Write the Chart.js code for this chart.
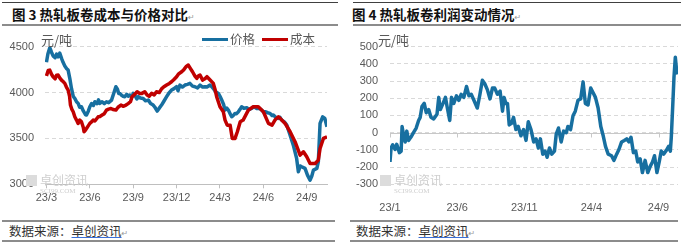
<!DOCTYPE html>
<html>
<head>
<meta charset="utf-8">
<script src="https://cdn.jsdelivr.net/npm/chart.js@4.4.1/dist/chart.umd.min.js"></script>
<style>
  body { margin: 0; width: 681px; height: 244px; background: #fff; position: relative; overflow: hidden; font-family: "Noto Sans CJK SC", sans-serif; }
  .line { position: absolute; }
  .title { position: absolute; top: 5px; font-size: 13.5px; font-weight: bold; color: #111; line-height: 18px; white-space: nowrap; }
  .src { position: absolute; top: 222px; font-size: 12.5px; color: #333; line-height: 18px; white-space: nowrap; }
  .src u { text-decoration-color: #3a6fd8; }
  .pm { font-family: "DejaVu Sans"; font-size: 8px; color: #999; font-weight: normal; }
  .unit { position: absolute; top: 32px; font-size: 13px; color: #595959; line-height: 16px; }
  .leg { position: absolute; top: 31px; font-size: 12.5px; color: #595959; line-height: 16px; }
  .sw { position: absolute; top: 38px; height: 3px; width: 26px; }
  .wm { position: absolute; color: #cfcfcf; white-space: nowrap; }
  .box { position: absolute; }
</style>
</head>
<body>
<!-- panel rules -->
<div class="line" style="left:2px;top:2px;width:336px;height:1px;background:#404040"></div>
<div class="line" style="left:353px;top:2px;width:328px;height:1px;background:#404040"></div>
<div class="line" style="left:2px;top:24px;width:336px;height:2px;background:#8c8c8c"></div>
<div class="line" style="left:353px;top:24px;width:328px;height:2px;background:#8c8c8c"></div>
<div class="line" style="left:2px;top:220px;width:333px;height:2px;background:#8c8c8c"></div>
<div class="line" style="left:350px;top:220px;width:328px;height:2px;background:#8c8c8c"></div>
<div class="line" style="left:2px;top:240px;width:333px;height:2px;background:#8c8c8c"></div>
<div class="line" style="left:350px;top:240px;width:328px;height:2px;background:#8c8c8c"></div>

<div class="title" style="left:12px">图 3 热轧板卷成本与价格对比<span class="pm">↵</span></div>
<div class="title" style="left:352px">图 4 热轧板卷利润变动情况<span class="pm">↵</span></div>

<div class="box" style="left:0;top:28px;width:340px;height:190px"><canvas id="c1" width="340" height="190"></canvas></div>
<div class="box" style="left:340px;top:28px;width:341px;height:190px"><canvas id="c2" width="341" height="190"></canvas></div>

<div class="unit" style="left:41px">元/吨</div>
<div class="unit" style="left:378px">元/吨</div>

<div class="sw" style="left:202px;background:#176fa0"></div>
<div class="leg" style="left:230px">价格</div>
<div class="sw" style="left:262px;background:#c00000"></div>
<div class="leg" style="left:290px">成本</div>

<!-- watermarks -->
<div class="wm" style="left:26px;top:175px;width:11px;height:11px;background:#dcdcdc"></div>
<div class="wm" style="left:40px;top:173px;font-size:12px;line-height:14px">卓创资讯</div>
<div class="wm" style="left:40px;top:187px;font-size:7px;line-height:8px;font-family:'Liberation Serif'">SCI99.COM</div>
<div class="wm" style="left:380px;top:175px;width:11px;height:11px;background:#dcdcdc"></div>
<div class="wm" style="left:394px;top:173px;font-size:12px;line-height:14px">卓创资讯</div>
<div class="wm" style="left:394px;top:187px;font-size:7px;line-height:8px;font-family:'Liberation Serif'">SCI99.COM</div>

<div class="src" style="left:9px">数据来源：<u>卓创资讯</u><span class="pm">↵</span></div>
<div class="src" style="left:356px">数据来源：<u>卓创资讯</u><span class="pm">↵</span></div>

<script>
// months counted from 2023-01 (0 = 23/1)
const leftTickMonths = [2, 5, 8, 11, 14, 17, 20];
const leftTickLabels = ['23/3', '23/6', '23/9', '23/12', '24/3', '24/6', '24/9'];
const rightTickMonths = [0, 5, 10, 15, 20];
const rightTickLabels = ['23/1', '23/6', '23/11', '24/4', '24/9'];

// 价格
const priceMonths = [2.0, 2.1, 2.23, 2.35, 2.46, 2.6, 2.7, 2.81, 2.92, 3.05, 3.15, 3.27, 3.4, 3.5, 3.62, 3.73, 3.85, 3.96, 4.08, 4.19, 4.3, 4.42, 4.55, 4.7, 4.77, 4.9, 5.0, 5.12, 5.25, 5.35, 5.5, 5.6, 5.69, 5.85, 6.0, 6.15, 6.3, 6.5, 6.65, 6.8, 6.9, 7.0, 7.08, 7.2, 7.3, 7.42, 7.55, 7.65, 7.77, 7.9, 8.0, 8.15, 8.25, 8.35, 8.5, 8.69, 8.85, 9.04, 9.2, 9.38, 9.5, 9.66, 9.8, 9.96, 10.1, 10.31, 10.45, 10.65, 10.8, 11.0, 11.1, 11.23, 11.4, 11.58, 11.75, 11.92, 12.1, 12.27, 12.45, 12.62, 12.8, 12.96, 13.1, 13.31, 13.45, 13.54, 13.7, 13.89, 14.0, 14.12, 14.25, 14.35, 14.47, 14.58, 14.7, 14.81, 14.92, 15.04, 15.15, 15.27, 15.4, 15.5, 15.65, 15.85, 16.0, 16.19, 16.35, 16.54, 16.7, 16.89, 17.0, 17.12, 17.3, 17.46, 17.6, 17.69, 17.85, 18.04, 18.15, 18.27, 18.45, 18.62, 18.85, 19.07, 19.3, 19.42, 19.55, 19.65, 19.88, 20.05, 20.23, 20.35, 20.46, 20.7, 20.8, 20.92, 21.1, 21.25, 21.4];
const priceValues = [4330, 4420, 4490, 4440, 4400, 4380, 4420, 4390, 4430, 4370, 4330, 4290, 4260, 4245, 4150, 4045, 3960, 3936, 3900, 3882, 3840, 3845, 3800, 3760, 3755, 3800, 3845, 3880, 3860, 3900, 3880, 3920, 3882, 3900, 3880, 3900, 3890, 3918, 3990, 4064, 4040, 3990, 3991, 3970, 3960, 3955, 3980, 3960, 3973, 3950, 3991, 3960, 3930, 3955, 3940, 3936, 3910, 3918, 3880, 3864, 3840, 3798, 3830, 3864, 3900, 3955, 3990, 4027, 4040, 4064, 4020, 4082, 4060, 4082, 4090, 4100, 4070, 4064, 4050, 4082, 4060, 4064, 4060, 4082, 4060, 4045, 4010, 3991, 3960, 3918, 3870, 3809, 3830, 3809, 3770, 3736, 3750, 3773, 3770, 3790, 3820, 3845, 3830, 3835, 3815, 3827, 3845, 3827, 3830, 3809, 3790, 3791, 3780, 3773, 3750, 3755, 3730, 3718, 3730, 3700, 3680, 3645, 3536, 3427, 3282, 3136, 3200, 3191, 3173, 3100, 3045, 3090, 3155, 3173, 3245, 3664, 3736, 3718, 3627];

// 成本
const costMonths = [2.0, 2.12, 2.23, 2.35, 2.46, 2.6, 2.7, 2.81, 2.92, 3.04, 3.15, 3.27, 3.38, 3.5, 3.6, 3.66, 3.75, 3.85, 3.96, 4.08, 4.19, 4.3, 4.42, 4.55, 4.6, 4.7, 4.77, 4.9, 5.0, 5.12, 5.23, 5.35, 5.5, 5.58, 5.7, 5.85, 6.0, 6.15, 6.3, 6.46, 6.6, 6.8, 6.95, 7.15, 7.3, 7.5, 7.65, 7.81, 7.92, 8.1, 8.27, 8.45, 8.6, 8.8, 8.96, 9.1, 9.27, 9.45, 9.61, 9.8, 9.96, 10.1, 10.31, 10.5, 10.65, 10.8, 11.0, 11.12, 11.35, 11.5, 11.65, 11.81, 11.95, 12.1, 12.27, 12.4, 12.5, 12.62, 12.8, 12.96, 13.1, 13.3, 13.54, 13.65, 13.77, 14.0, 14.23, 14.35, 14.5, 14.7, 14.85, 15.04, 15.2, 15.4, 15.6, 15.96, 16.3, 16.65, 17.0, 17.35, 17.6, 17.8, 18.04, 18.27, 18.5, 18.85, 19.19, 19.54, 19.77, 20.0, 20.23, 20.58, 20.8, 20.92, 21.15, 21.4];
const costValues = [4180, 4240, 4245, 4200, 4173, 4150, 4190, 4191, 4160, 4136, 4120, 4100, 4060, 4027, 3960, 3864, 3820, 3791, 3736, 3700, 3664, 3700, 3682, 3620, 3573, 3590, 3609, 3640, 3664, 3680, 3700, 3690, 3720, 3736, 3740, 3755, 3770, 3809, 3820, 3827, 3815, 3809, 3840, 3864, 3850, 3864, 3880, 3900, 3955, 3980, 4009, 3990, 3991, 4009, 3973, 3960, 3991, 3975, 4009, 4000, 4040, 4060, 4082, 4100, 4118, 4140, 4173, 4200, 4227, 4250, 4282, 4300, 4264, 4227, 4180, 4155, 4180, 4191, 4136, 4150, 4173, 4140, 4100, 4040, 3955, 3845, 3791, 3700, 3645, 3645, 3500, 3500, 3573, 3682, 3700, 3809, 3845, 3845, 3791, 3664, 3645, 3700, 3736, 3700, 3664, 3573, 3464, 3318, 3355, 3300, 3227, 3227, 3264, 3390, 3500, 3518];

// 利润
const profitMonths = [0, 0.08, 0.2, 0.38, 0.5, 0.7, 0.83, 0.9, 1.0, 1.13, 1.25, 1.38, 1.55, 1.75, 1.95, 2.13, 2.25, 2.38, 2.55, 2.7, 2.88, 3.05, 3.25, 3.5, 3.63, 3.75, 3.95, 4.13, 4.25, 4.45, 4.58, 4.75, 4.95, 5.13, 5.3, 5.5, 5.7, 5.88, 6.05, 6.25, 6.5, 6.7, 6.88, 7.05, 7.25, 7.45, 7.63, 7.8, 8.0, 8.2, 8.38, 8.5, 8.63, 8.75, 8.88, 9.05, 9.2, 9.38, 9.55, 9.75, 9.95, 10.13, 10.3, 10.5, 10.7, 10.88, 11.05, 11.2, 11.38, 11.55, 11.7, 11.88, 12.05, 12.25, 12.38, 12.55, 12.75, 12.93, 13.13, 13.25, 13.45, 13.63, 13.8, 14.0, 14.2, 14.38, 14.55, 14.75, 14.95, 15.13, 15.3, 15.5, 15.7, 15.88, 16.05, 16.25, 16.5, 16.68, 16.88, 17.05, 17.25, 17.45, 17.63, 17.8, 17.95, 18.13, 18.3, 18.45, 18.63, 18.8, 19.0, 19.2, 19.38, 19.55, 19.7, 19.88, 20.05, 20.2, 20.38, 20.55, 20.75, 20.88, 20.95, 21.05, 21.15, 21.25, 21.33, 21.43];
const profitValues = [-170, -89, -71, -98, -68, -116, -107, 36, -9, -54, 9, -45, -27, 0, 27, 71, 89, 152, 170, 116, 134, 89, 80, 107, 205, 134, 170, 205, 152, 71, 205, 170, 214, 188, 223, 205, 268, 214, 223, 188, 143, 223, 304, 286, 250, 196, 259, 259, 223, 241, 125, 205, 170, 170, 45, 54, 89, 18, 36, -18, 18, -45, 63, 18, -54, -36, -89, -36, -125, -107, -143, -89, -125, -107, -9, 27, -54, 9, 0, 36, 18, 98, 125, 188, 196, 295, 170, 161, 259, 232, 205, 143, 36, -18, -80, -125, -134, -161, -125, -98, -54, -45, -36, -54, -27, -116, -107, -170, -152, -232, -161, -232, -196, -170, -134, -232, -170, -107, -125, -107, -80, -107, -27, 143, 321, 438, 375, 339];

const tickFont = { family: "'Liberation Sans', 'Noto Sans CJK SC', sans-serif", size: 11 };
const tickColor = '#595959';

function pts(xs, ys) {
    return xs.map((x, i) => ({ x: x, y: ys[i] }));
}

// left chart: 成本与价格
new Chart(document.getElementById('c1'), {
    type: 'line',
    data: {
        datasets: [
            { label: '价格', data: pts(priceMonths, priceValues), borderColor: '#176fa0', borderWidth: 3.5, borderJoinStyle: 'round', pointRadius: 0, order: 1 },
            { label: '成本', data: pts(costMonths, costValues), borderColor: '#c00000', borderWidth: 3.5, borderJoinStyle: 'round', pointRadius: 0, order: 0 }
        ]
    },
    options: {
        responsive: false,
        animation: false,
        devicePixelRatio: 1,
        layout: { padding: { top: 18.7, right: 13, left: 0, bottom: 0 } },
        plugins: { legend: { display: false }, tooltip: { enabled: false } },
        scales: {
            x: {
                type: 'linear', min: 1.9, max: 21.4,
                afterFit: s => { s.height = 33.7; },
                afterBuildTicks: s => { s.ticks = leftTickMonths.map(v => ({ value: v })); },
                ticks: { font: tickFont, color: tickColor, padding: 3, maxRotation: 0, autoSkip: false,
                    callback: v => leftTickLabels[leftTickMonths.indexOf(v)] },
                grid: { drawOnChartArea: false, drawTicks: true, tickLength: 4, color: '#bfbfbf' },
                border: { display: true, color: '#bfbfbf' }
            },
            y: {
                min: 3000, max: 4500,
                afterFit: s => { s.width = 45; },
                ticks: { stepSize: 500, font: tickFont, color: tickColor, padding: 11, callback: v => String(v) },
                grid: { drawTicks: false, color: '#d9d9d9' },
                border: { display: false, dash: [4, 3] }
            }
        }
    }
});

// zero line with tick marks for the profit chart
const zeroAxis = {
    id: 'zeroAxis',
    beforeDatasetsDraw(chart) {
        const { ctx, chartArea, scales } = chart;
        const y0 = Math.round(scales.y.getPixelForValue(0)) + 0.5;
        ctx.save();
        ctx.strokeStyle = '#c8c8c8';
        ctx.lineWidth = 1;
        ctx.beginPath();
        ctx.moveTo(chartArea.left, y0);
        ctx.lineTo(chartArea.right, y0);
        rightTickMonths.forEach(m => {
            const x = Math.round(scales.x.getPixelForValue(m)) + 0.5;
            ctx.moveTo(x, y0);
            ctx.lineTo(x, y0 + 4);
        });
        ctx.stroke();
        ctx.restore();
    }
};

// right chart: 利润
new Chart(document.getElementById('c2'), {
    type: 'line',
    data: {
        datasets: [
            { label: '利润', data: pts(profitMonths, profitValues), borderColor: '#176fa0', borderWidth: 3.5, borderJoinStyle: 'round', pointRadius: 0 }
        ]
    },
    options: {
        responsive: false,
        animation: false,
        devicePixelRatio: 1,
        layout: { padding: { top: 7, right: 3, left: 0, bottom: 0 } },
        plugins: { legend: { display: false }, tooltip: { enabled: false } },
        scales: {
            x: {
                type: 'linear', min: 0, max: 21.45,
                afterFit: s => { s.height = 33.7; },
                afterBuildTicks: s => { s.ticks = rightTickMonths.map(v => ({ value: v })); },
                ticks: { font: tickFont, color: tickColor, padding: 9, maxRotation: 0, autoSkip: false,
                    callback: v => rightTickLabels[rightTickMonths.indexOf(v)] },
                grid: { display: false },
                border: { display: false }
            },
            y: {
                min: -300, max: 500,
                afterFit: s => { s.width = 50; },
                ticks: { stepSize: 100, font: tickFont, color: tickColor, padding: 12, callback: v => String(v) },
                grid: { drawTicks: false, color: '#d9d9d9' },
                border: { display: false, dash: [4, 3] }
            }
        }
    },
    plugins: [zeroAxis]
});
</script>
</body>
</html>
